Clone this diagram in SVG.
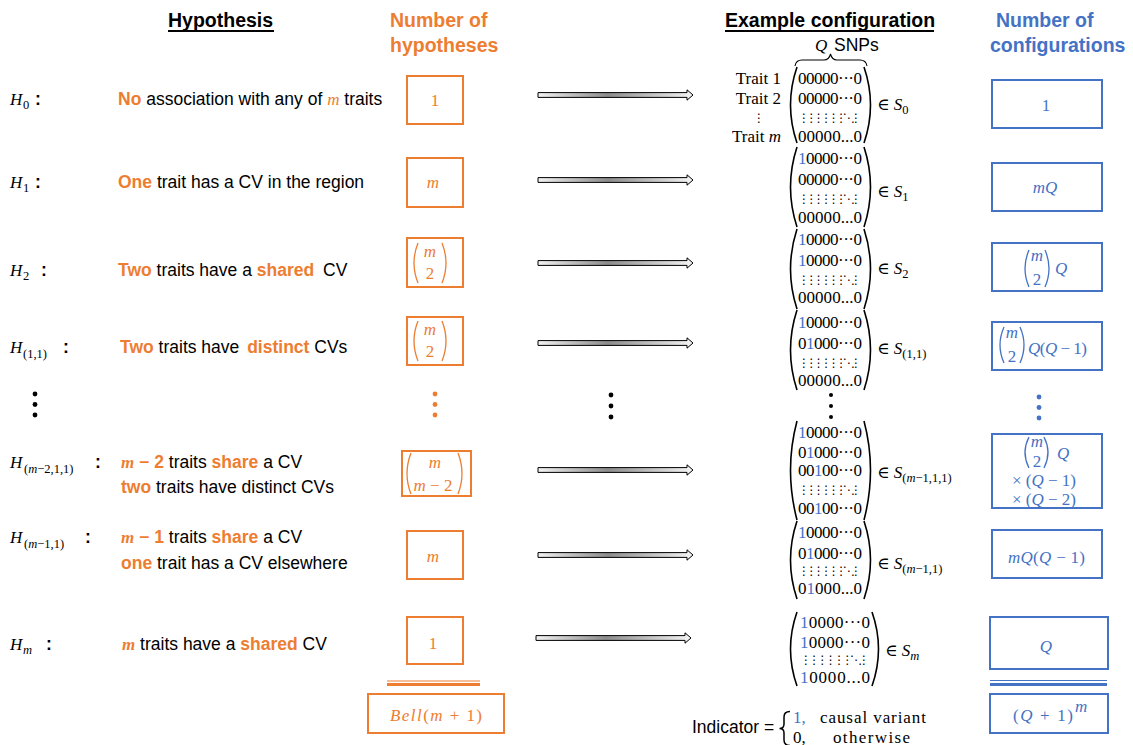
<svg xmlns="http://www.w3.org/2000/svg" width="1133" height="745" viewBox="0 0 1133 745">
<defs>
<style>
.s{font-family:"Liberation Sans",Arial,sans-serif;font-size:17.5px;fill:#000}
.hd{font-family:"Liberation Sans",Arial,sans-serif;font-size:19.5px;font-weight:bold}
.b{font-weight:bold}
.o{fill:#ED7D31}
.u{fill:#4472C4}
.k{fill:#000}
.m{font-family:"Liberation Serif","DejaVu Serif",serif;font-size:17px}
.it{font-style:italic}
.sub{font-size:12.5px}
.obox{fill:none;stroke:#ED7D31;stroke-width:2}
.ubox{fill:none;stroke:#4472C4;stroke-width:2}
.par{fill:none;stroke:#000;stroke-width:1.6}
.opar{fill:none;stroke:#ED7D31;stroke-width:1.3}
.upar{fill:none;stroke:#4472C4;stroke-width:1.3}
.dd{font-family:"DejaVu Sans",sans-serif;font-size:12px;fill:#000}
.mid{text-anchor:middle}
.end{text-anchor:end}
.uln{stroke:#000;stroke-width:1.8}
</style>
<linearGradient id="ag" x1="0" y1="0" x2="1" y2="0">
<stop offset="0" stop-color="#f2f2f2"/>
<stop offset="0.45" stop-color="#8c8c8c"/>
<stop offset="1" stop-color="#f5f5f5"/>
</linearGradient>
<path id="arr" d="M0,-2.4 H149 V-5.2 L155,0 L149,5.2 V2.4 H0 Z" fill="url(#ag)" stroke="#000" stroke-width="1"/>
</defs>
<rect width="1133" height="745" fill="#fff"/>

<g id="headers">
<text class="hd" x="168" y="27">Hypothesis</text>
<line class="uln" x1="168" y1="31" x2="274" y2="31"/>
<text class="hd o" x="390" y="27">Number of</text>
<text class="hd o" x="390" y="52">hypotheses</text>
<text class="hd" x="725" y="27">Example configuration</text>
<line class="uln" x1="725" y1="31" x2="934" y2="31"/>
<text class="hd u" x="996" y="27">Number of</text>
<text class="hd u" x="990" y="52">configurations</text>
</g>

<!-- Row H0 -->
<g id="h0-hyp">
<text class="m it" x="10" y="105" font-size="18">H</text><text class="m sub" x="23" y="109">0</text><text class="s b" x="35" y="105">:</text>
<text class="s" x="118" y="105"><tspan class="b o">No</tspan> association with any of <tspan class="m it o" font-size="18">m</tspan> traits</text>
</g>
<g id="h0-count">
<rect class="obox" x="407" y="76" width="56" height="48"/>
<text class="m o mid" x="435" y="106">1</text>
</g>
<g id="h0-config">
<text class="m it" x="815" y="51" font-size="15">Q</text>
<text class="s" x="834" y="51" font-size="14.5">SNPs</text>
<path d="M795,66 Q796,60 802,60 L824,60 Q829,60 830.5,54 Q832,60 837,60 L860,60 Q866,60 867,66" fill="none" stroke="#000" stroke-width="1.1"/>
<text class="m end" x="781" y="84">Trait 1</text>
<text class="m end" x="781" y="104">Trait 2</text>
<text class="dd mid" x="759" y="122">⋮</text>
<text class="m end" x="781" y="142">Trait <tspan class="it">m</tspan></text>
<path class="par" d="M797,67 Q784,105 797,143"/>
<path class="par" d="M864,67 Q877,105 864,143"/>
<text class="m" x="798" y="84" textLength="64">00000···0</text>
<text class="m" x="798" y="104" textLength="64">00000···0</text>
<text class="dd" x="798" y="122" textLength="64">⋮⋮⋮⋮⋮⋮⋱⋮</text>
<text class="m" x="798" y="142" textLength="64">00000...0</text>
<text class="m" x="877" y="110">∈ <tspan class="it">S</tspan><tspan class="sub" dy="4">0</tspan></text>
</g>
<g id="h0-nconf">
<rect class="ubox" x="992" y="80" width="110" height="48"/>
<text class="m u mid" x="1046" y="111">1</text>
</g>

<!-- Row H1 -->
<g id="h1-hyp">
<text class="m it" x="10" y="188" font-size="18">H</text><text class="m sub" x="23" y="192">1</text><text class="s b" x="35" y="188">:</text>
<text class="s" x="118" y="188"><tspan class="b o">One</tspan> trait has a CV in the region</text>
</g>
<g id="h1-count">
<rect class="obox" x="407" y="158" width="56" height="49"/>
<text class="m it o mid" x="433" y="188">m</text>
</g>
<g id="h1-config">
<path class="par" d="M797,147 Q784,187 797,227"/>
<path class="par" d="M864,147 Q877,187 864,227"/>
<text class="m" x="798" y="164" textLength="64"><tspan class="u">1</tspan>0000···0</text>
<text class="m" x="798" y="185" textLength="64">00000···0</text>
<text class="dd" x="798" y="203" textLength="64">⋮⋮⋮⋮⋮⋮⋱⋮</text>
<text class="m" x="798" y="223" textLength="64">00000...0</text>
<text class="m" x="877" y="197">∈ <tspan class="it">S</tspan><tspan class="sub" dy="4">1</tspan></text>
</g>
<g id="h1-nconf">
<rect class="ubox" x="992" y="163" width="110" height="48"/>
<text class="m it u mid" x="1045" y="193">mQ</text>
</g>

<!-- Row H2 -->
<g id="h2-hyp">
<text class="m it" x="10" y="276" font-size="18">H</text><text class="m sub" x="23" y="280">2</text><text class="s b" x="41" y="276">:</text>
<text class="s" x="118" y="276"><tspan class="b o">Two</tspan> traits have a <tspan class="b o">shared</tspan><tspan dx="4"> CV</tspan></text>
</g>
<g id="h2-count">
<rect class="obox" x="407" y="238" width="56" height="49"/>
<path class="opar" d="M418,243 Q410,263 418,283"/>
<path class="opar" d="M442,243 Q450,263 442,283"/>
<text class="m it o mid" x="430" y="257" font-size="16">m</text>
<text class="m o mid" x="430" y="279" font-size="16">2</text>
</g>
<g id="h2-config">
<path class="par" d="M797,229 Q784,269 797,309"/>
<path class="par" d="M864,229 Q877,269 864,309"/>
<text class="m" x="798" y="245" textLength="64"><tspan class="u">1</tspan>0000···0</text>
<text class="m" x="798" y="266" textLength="64"><tspan class="u">1</tspan>0000···0</text>
<text class="dd" x="798" y="284" textLength="64">⋮⋮⋮⋮⋮⋮⋱⋮</text>
<text class="m" x="798" y="303" textLength="64">00000...0</text>
<text class="m" x="877" y="274">∈ <tspan class="it">S</tspan><tspan class="sub" dy="4">2</tspan></text>
</g>
<g id="h2-nconf">
<rect class="ubox" x="992" y="243" width="110" height="48"/>
<path class="upar" d="M1029,250 Q1021,268.5 1029,287"/>
<path class="upar" d="M1045,250 Q1053,268.5 1045,287"/>
<text class="m it u mid" x="1037" y="261" font-size="15">m</text>
<text class="m u mid" x="1037" y="285" font-size="15">2</text>
<text class="m it u" x="1055" y="274">Q</text>
</g>

<!-- Row H(1,1) -->
<g id="h11-hyp">
<text class="m it" x="10" y="353" font-size="18">H</text><text class="m sub" x="23" y="358">(1,1)</text><text class="s b" x="63" y="353">:</text>
<text class="s" x="120" y="353"><tspan class="b o">Two</tspan> traits have <tspan class="b o" dx="3">distinct</tspan> CVs</text>
</g>
<g id="h11-count">
<rect class="obox" x="407" y="317" width="56" height="48"/>
<path class="opar" d="M418,321 Q410,341 418,361"/>
<path class="opar" d="M442,321 Q450,341 442,361"/>
<text class="m it o mid" x="430" y="335" font-size="16">m</text>
<text class="m o mid" x="430" y="357" font-size="16">2</text>
</g>
<g id="h11-config">
<path class="par" d="M797,310 Q784,350 797,390"/>
<path class="par" d="M864,310 Q877,350 864,390"/>
<text class="m" x="798" y="328" textLength="64"><tspan class="u">1</tspan>0000···0</text>
<text class="m" x="798" y="349" textLength="64">0<tspan class="u">1</tspan>000···0</text>
<text class="dd" x="798" y="367" textLength="64">⋮⋮⋮⋮⋮⋮⋱⋮</text>
<text class="m" x="798" y="386" textLength="64">00000...0</text>
<text class="m" x="877" y="354">∈ <tspan class="it">S</tspan><tspan class="sub" dy="4">(1,1)</tspan></text>
</g>
<g id="h11-nconf">
<rect class="ubox" x="992" y="322" width="110" height="48"/>
<path class="upar" d="M1004,327 Q996,345 1004,363"/>
<path class="upar" d="M1020,327 Q1028,345 1020,363"/>
<text class="m it u mid" x="1012" y="338" font-size="15">m</text>
<text class="m u mid" x="1012" y="362" font-size="15">2</text>
<text class="m u" x="1028" y="354" textLength="59"><tspan class="it">Q</tspan>(<tspan class="it">Q</tspan> − 1)</text>
</g>

<!-- Ellipsis dots -->
<g id="ellipsis">
<circle cx="35" cy="394" r="2.4" fill="#000"/><circle cx="35" cy="404.5" r="2.4" fill="#000"/><circle cx="35" cy="415" r="2.4" fill="#000"/>
<circle cx="435" cy="394" r="2.4" fill="#ED7D31"/><circle cx="435" cy="404.5" r="2.4" fill="#ED7D31"/><circle cx="435" cy="415" r="2.4" fill="#ED7D31"/>
<circle cx="611" cy="395" r="2.4" fill="#000"/><circle cx="611" cy="406" r="2.4" fill="#000"/><circle cx="611" cy="417" r="2.4" fill="#000"/>
<circle cx="831" cy="395" r="2" fill="#000"/><circle cx="831" cy="406" r="2" fill="#000"/><circle cx="831" cy="417" r="2" fill="#000"/>
<circle cx="1039" cy="397" r="2.4" fill="#4472C4"/><circle cx="1039" cy="407.5" r="2.4" fill="#4472C4"/><circle cx="1039" cy="418" r="2.4" fill="#4472C4"/>
</g>

<!-- Row H(m-2,1,1) -->
<g id="hm211-hyp">
<text class="m it" x="10" y="468" font-size="18">H</text><text class="m sub" x="24" y="473" font-size="13.5">(<tspan class="it">m</tspan>−2,1,1)</text><text class="s b" x="95" y="468">:</text>
<text class="s" x="121" y="468"><tspan class="m it b o" font-size="18">m</tspan><tspan class="b o"> − 2</tspan> traits <tspan class="b o">share</tspan> a CV</text>
<text class="s" x="121" y="493"><tspan class="b o">two</tspan> traits have distinct CVs</text>
</g>
<g id="hm211-count">
<rect class="obox" x="402" y="451" width="69" height="45"/>
<path class="opar" d="M411,453 Q403,473.5 411,494"/>
<path class="opar" d="M458,453 Q466,473.5 458,494"/>
<text class="m it o mid" x="435" y="468" font-size="16">m</text>
<text class="m o mid" x="433" y="491" font-size="16"><tspan class="it">m</tspan> − 2</text>
</g>
<g id="hm211-config">
<path class="par" d="M797,421 Q784,470 797,520"/>
<path class="par" d="M864,421 Q877,470 864,520"/>
<text class="m" x="798" y="438" textLength="64"><tspan class="u">1</tspan>0000···0</text>
<text class="m" x="798" y="458" textLength="64">0<tspan class="u">1</tspan>000···0</text>
<text class="m" x="798" y="476" textLength="64">00<tspan class="u">1</tspan>00···0</text>
<text class="dd" x="798" y="494" textLength="64">⋮⋮⋮⋮⋮⋮⋱⋮</text>
<text class="m" x="798" y="514" textLength="64">00<tspan class="u">1</tspan>00···0</text>
<text class="m" x="877" y="478">∈ <tspan class="it">S</tspan><tspan class="sub" dy="4">(<tspan class="it">m</tspan>−1,1,1)</tspan></text>
</g>
<g id="hm211-nconf">
<rect class="ubox" x="992" y="434" width="110" height="74"/>
<path class="upar" d="M1029,437 Q1021,452.5 1029,468"/>
<path class="upar" d="M1044,437 Q1052,452.5 1044,468"/>
<text class="m it u mid" x="1037" y="447" font-size="14">m</text>
<text class="m u mid" x="1037" y="467" font-size="14">2</text>
<text class="m it u" x="1057" y="459">Q</text>
<text class="m u mid" x="1044" y="486" font-size="16">× (<tspan class="it">Q</tspan> − 1)</text>
<text class="m u mid" x="1044" y="505" font-size="16">× (<tspan class="it">Q</tspan> − 2)</text>
</g>

<!-- Row H(m-1,1) -->
<g id="hm11-hyp">
<text class="m it" x="10" y="543" font-size="18">H</text><text class="m sub" x="24" y="548" font-size="13.5">(<tspan class="it">m</tspan>−1,1)</text><text class="s b" x="85" y="543">:</text>
<text class="s" x="121" y="543"><tspan class="m it b o" font-size="18">m</tspan><tspan class="b o"> − 1</tspan> traits <tspan class="b o">share</tspan> a CV</text>
<text class="s" x="121" y="569"><tspan class="b o">one</tspan> trait has a CV elsewhere</text>
</g>
<g id="hm11-count">
<rect class="obox" x="407" y="531" width="56" height="48"/>
<text class="m it o mid" x="433" y="562">m</text>
</g>
<g id="hm11-config">
<path class="par" d="M797,521 Q784,560 797,599"/>
<path class="par" d="M864,521 Q877,560 864,599"/>
<text class="m" x="798" y="538" textLength="64"><tspan class="u">1</tspan>0000···0</text>
<text class="m" x="798" y="559" textLength="64">0<tspan class="u">1</tspan>000···0</text>
<text class="dd" x="798" y="575" textLength="64">⋮⋮⋮⋮⋮⋮⋱⋮</text>
<text class="m" x="798" y="594" textLength="64">0<tspan class="u">1</tspan>000...0</text>
<text class="m" x="877" y="569">∈ <tspan class="it">S</tspan><tspan class="sub" dy="4">(<tspan class="it">m</tspan>−1,1)</tspan></text>
</g>
<g id="hm11-nconf">
<rect class="ubox" x="992" y="530" width="110" height="48"/>
<text class="m u" x="1008" y="563" textLength="77"><tspan class="it">mQ</tspan>(<tspan class="it">Q</tspan> − 1)</text>
</g>

<!-- Row Hm -->
<g id="hm-hyp">
<text class="m it" x="10" y="650" font-size="18">H</text><text class="m sub it" x="23" y="654">m</text><text class="s b" x="46" y="650">:</text>
<text class="s" x="122" y="650"><tspan class="m it b o" font-size="18">m</tspan> traits have a <tspan class="b o">shared</tspan> CV</text>
</g>
<g id="hm-count">
<rect class="obox" x="407" y="617" width="56" height="47"/>
<text class="m o mid" x="433" y="649">1</text>
</g>
<g id="hm-config">
<path class="par" d="M797,612 Q784,649 797,686"/>
<path class="par" d="M872,612 Q885,649 872,686"/>
<text class="m" x="800" y="628" textLength="70"><tspan class="u">1</tspan>0000···0</text>
<text class="m" x="800" y="648" textLength="70"><tspan class="u">1</tspan>0000···0</text>
<text class="dd" x="800" y="664" textLength="70">⋮⋮⋮⋮⋮⋮⋱⋮</text>
<text class="m" x="800" y="683" textLength="70"><tspan class="u">1</tspan>0000...0</text>
<text class="m" x="885" y="656">∈ <tspan class="it">S</tspan><tspan class="sub it" dy="4">m</tspan></text>
</g>
<g id="hm-nconf">
<rect class="ubox" x="990" y="617" width="118" height="52" stroke-width="2.4"/>
<text class="m it u mid" x="1046" y="652">Q</text>
</g>

<!-- Totals -->
<g id="total-hyp">
<line x1="387" y1="681" x2="480" y2="681" stroke="#ED7D31" stroke-width="1"/>
<line x1="387" y1="684.5" x2="480" y2="684.5" stroke="#ED7D31" stroke-width="3"/>
<rect class="obox" x="368" y="694" width="136" height="39"/>
<text class="m o" x="390" y="721" font-size="18" textLength="92"><tspan class="it">Bell</tspan>(<tspan class="it">m</tspan> + 1)</text>
</g>
<g id="total-conf">
<line x1="990" y1="680.5" x2="1107" y2="680.5" stroke="#4472C4" stroke-width="1"/>
<line x1="990" y1="684.5" x2="1107" y2="684.5" stroke="#4472C4" stroke-width="3"/>
<rect class="ubox" x="990" y="694" width="118" height="39"/>
<text class="m u" x="1013" y="721" font-size="18" textLength="60">(<tspan class="it">Q</tspan> + 1)</text>
<text class="m u it" x="1075" y="712" font-size="12">m</text>
</g>

<g id="indicator">
<text class="s" x="692" y="733" font-size="18">Indicator =</text>
<path d="M790,711.5 Q784,711.5 784,717 L784,724 Q784,728.5 779.5,728.5 Q784,728.5 784,733 L784,740 Q784,745.5 790,745.5" fill="none" stroke="#000" stroke-width="1.5"/>
<text class="m u" x="793" y="723" font-size="19">1,</text>
<text class="m" x="820" y="723" font-size="19" textLength="106">causal variant</text>
<text class="m" x="793" y="743" font-size="19">0,</text>
<text class="m" x="833" y="743" font-size="19" textLength="77">otherwise</text>
</g>

<g id="connectors">
<use href="#arr" x="538" y="95"/>
<use href="#arr" x="538" y="180"/>
<use href="#arr" x="538" y="263"/>
<use href="#arr" x="538" y="343"/>
<use href="#arr" x="538" y="470"/>
<use href="#arr" x="538" y="555"/>
<use href="#arr" x="536" y="638"/>
</g>
</svg>
